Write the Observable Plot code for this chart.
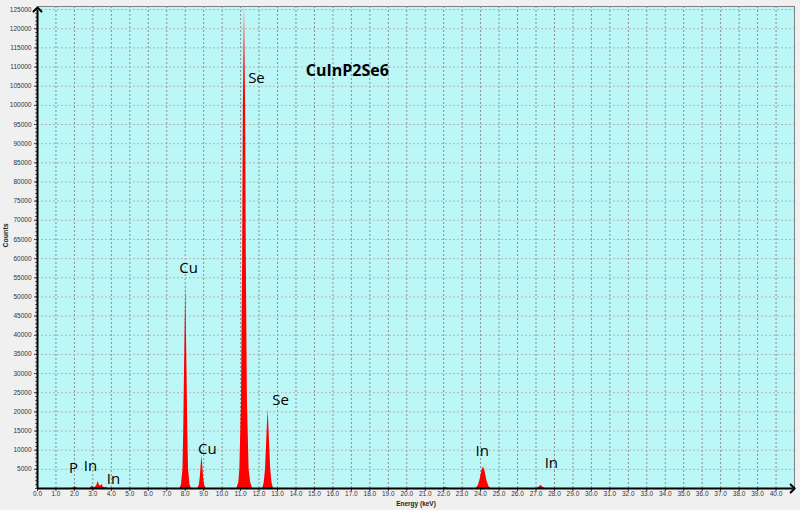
<!DOCTYPE html>
<html>
<head>
<meta charset="utf-8">
<script src="https://cdn.jsdelivr.net/npm/d3@7"></script>
<script src="https://cdn.jsdelivr.net/npm/@observablehq/plot@0.6"></script>
<style>
  html, body { margin: 0; padding: 0; background: #f0f0f0; }
  #chart { width: 800px; height: 510px; }
</style>
</head>
<body>
<div id="chart"></div>
<script>
// ---- Data (energy in keV, counts) ----
const peakP   = [[1.9,0],[1.97,250],[2.03,480],[2.1,250],[2.18,0]];
const peakInL = [[2.85,0],[2.92,400],[2.97,750],[3.02,300],[3.1,200],[3.2,650],[3.29,1800],[3.35,900],[3.42,600],[3.49,1100],[3.56,400],[3.65,150],[3.72,300],[3.8,0]];
const peakCuKa = [[7.72,0],[7.8,1000],[7.88,5000],[7.92,15000],[7.96,30000],[8.03,53500],[8.1,30000],[8.14,15000],[8.18,5000],[8.26,1000],[8.34,0]];
const peakCuKb = [[8.68,0],[8.76,800],[8.82,3000],[8.87,6500],[8.91,8400],[8.95,6000],[9.0,2500],[9.06,700],[9.14,0]];
const peakSeKa = [[10.8,0],[10.9,1500],[10.96,5000],[11.05,23000],[11.11,60000],[11.15,100000],[11.21,126000],[11.27,100000],[11.31,60000],[11.37,23000],[11.46,5000],[11.55,1500],[11.65,0]];
const peakSeKb = [[12.2,0],[12.28,1500],[12.35,5000],[12.41,12000],[12.49,20700],[12.57,12000],[12.63,5000],[12.7,1500],[12.78,0]];
const peakSmall = [[21.95,0],[22.1,250],[22.25,0]];
const peakInKa = [[23.75,0],[23.88,800],[23.98,2500],[24.08,4800],[24.16,5600],[24.24,4500],[24.34,2000],[24.45,500],[24.55,0]];
const peakInKb = [[27.05,0],[27.15,300],[27.27,800],[27.38,300],[27.5,0]];

const labelText = ["P", "In", "In", "Cu", "Cu", "Se", "Se", "In", "In"];
const labelE    = [1.95, 2.87, 4.11, 8.18, 9.2, 11.86, 13.16, 24.09, 27.83];
const labelC    = [5230, 5760, 2350, 57560, 10200, 107000, 23020, 9680, 6540];

const title = "CuInP2Se6";
const titleE = 16.78, titleC = 109100;

const xTicks = d3.range(0, 41, 1);
const yTicks = d3.range(5000, 125001, 5000);
const yMinor = d3.range(0, 126000, 1000);

// ---- Build tables ----
const spectrum = [[0,0]].concat(peakP, peakInL, peakCuKa, peakCuKb, peakSeKa, peakSeKb, peakSmall, peakInKa, peakInKb, [[41,0]])
  .map(([e, c]) => ({e, c}));
const labels = labelText.map((t, i) => ({t, e: labelE[i], c: labelC[i]}));

const chart = Plot.plot({
  width: 800,
  height: 510,
  marginLeft: 37,
  marginRight: 6,
  marginTop: 6,
  marginBottom: 22,
  x: {domain: [0, 41]},
  y: {domain: [0, 125800]},
  style: {background: "#f0f0f0", fontFamily: "'Liberation Sans', Arial, sans-serif", fontSize: "6.5px", color: "#333"},
  marks: [
    Plot.frame({fill: "#bcf7f7", stroke: "#808080"}),
    Plot.gridX(xTicks.filter(d => d > 0), {stroke: "#8c8c8c", strokeOpacity: 1, strokeDasharray: "2,2"}),
    Plot.gridY(yTicks, {stroke: "#b4b4b4", strokeOpacity: 1, strokeDasharray: "2,2"}),
    Plot.areaY(spectrum, {x: "e", y: "c", fill: "red", curve: "linear"}),
    Plot.axisX({ticks: xTicks, tickFormat: d => d.toFixed(1), tickSize: 3, tickPadding: 0, label: null, stroke: "#333"}),
    Plot.axisY({ticks: yTicks, tickFormat: d => String(d), tickSize: 3, tickPadding: 3, label: null, stroke: "#333"}),
    Plot.axisY({ticks: yMinor, tickFormat: () => "", tickSize: 2, label: null, stroke: "#555"}),
    Plot.link([{x1: 0, y1: 0, x2: 0, y2: 125000}], {x1: "x1", y1: "y1", x2: "x2", y2: "y2", stroke: "black", strokeWidth: 2, markerEnd: "arrow"}),
    Plot.link([{x1: 0, y1: 0, x2: 40.9, y2: 0}], {x1: "x1", y1: "y1", x2: "x2", y2: "y2", stroke: "black", strokeWidth: 2, markerEnd: "arrow"}),
    Plot.text(labels, {x: "e", y: "c", text: "t", fontSize: 15, fontFamily: "'Open Sans', sans-serif", fill: "black"}),
    Plot.text([title], {x: () => titleE, y: () => titleC, text: d => d, fontSize: 16, fontWeight: "bold", fontFamily: "'Open Sans', sans-serif", fill: "black"}),
    Plot.text(["Energy (keV)"], {frameAnchor: "bottom", dy: 17, text: d => d, fontWeight: "bold", fontSize: 6.5, fill: "#222"}),
    Plot.text(["Counts"], {frameAnchor: "left", dx: -32, rotate: -90, text: d => d, fontWeight: "bold", fontSize: 7, fill: "#222"})
  ]
});
document.getElementById("chart").appendChild(chart);
</script>
</body>
</html>
